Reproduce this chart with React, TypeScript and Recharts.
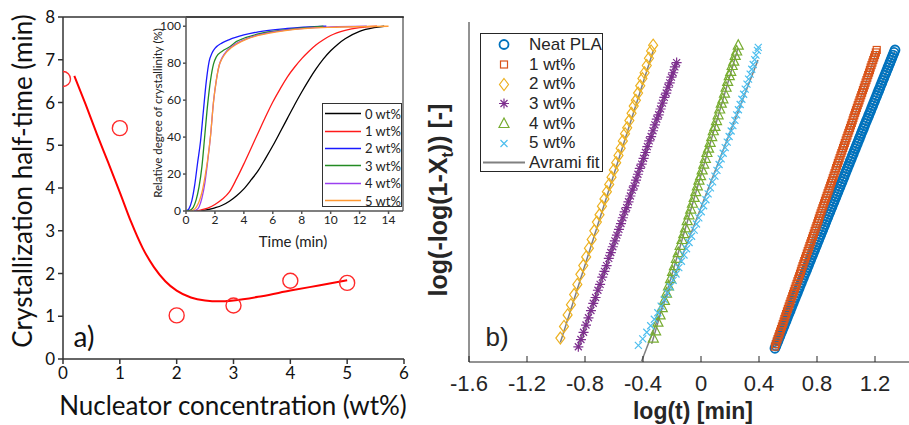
import React from "react";
import { ComposedChart, Line, Scatter, XAxis, YAxis, ReferenceLine, Legend } from "recharts";

type Pair = [number, number];
const toXY = (pairs: Pair[]) => pairs.map(([x, y]) => ({ x, y }));

// ---- panel a) half-time vs nucleator content ----
const nucleatorWt = [0, 1, 2, 3, 4, 5];
const halfTimeMin = [6.55, 5.4, 1.02, 1.25, 1.83, 1.78];
const fitWt = [0.2, 0.4, 0.6, 0.8, 1.0, 1.2, 1.4, 1.6, 1.8, 2.0, 2.25, 2.5, 2.75, 3.0, 3.5, 4.0, 4.5, 5.0];
const fitHalfTime = [6.62, 5.95, 5.25, 4.58, 3.9, 3.2, 2.6, 2.15, 1.82, 1.6, 1.44, 1.37, 1.35, 1.37, 1.47, 1.6, 1.72, 1.84];

// ---- inset: relative crystallinity (%) vs time (min) ----
const curve0wt: Pair[] = [[1, 0], [2, 1.7], [2.5, 3.1], [3, 5.3], [3.5, 8.3], [4, 12], [4.5, 16.8], [5, 22], [5.5, 28.5], [6, 35.3], [6.5, 42.6], [7, 50], [7.5, 57.4], [8, 64.4], [8.5, 71], [9, 77], [9.5, 82.3], [10, 86.7], [10.5, 90.3], [11, 93.2], [12, 97.2], [13, 99.2], [13.7, 100]];
const curve1wt: Pair[] = [[0.6, 0], [1, 0.5], [1.5, 1.5], [2, 3.5], [2.5, 6.3], [3, 10.3], [3.5, 17.5], [4, 25.5], [4.5, 34], [5, 42.5], [5.5, 51], [6, 59], [6.5, 66], [7, 72.5], [7.5, 77.8], [8, 82.5], [8.5, 86.5], [9, 90], [9.5, 92.7], [10, 95], [11, 97.8], [12, 99.3], [13.2, 100]];
const curve2wt: Pair[] = [[0, 0], [0.2, 1.2], [0.4, 5.5], [0.6, 14], [0.8, 26], [1.0, 37.5], [1.2, 54], [1.4, 70], [1.6, 81], [1.8, 85.5], [2.0, 88], [2.5, 91], [3, 92.8], [4, 95.3], [5, 97], [7, 98.8], [9.7, 100]];
const curve3wt: Pair[] = [[0, 0], [0.3, 0.5], [0.5, 2], [0.7, 6], [0.9, 13], [1.1, 24], [1.3, 41], [1.5, 58], [1.7, 71], [1.9, 79.5], [2.1, 83.5], [2.5, 86.5], [3, 88.8], [3.5, 91.8], [4, 93.5], [5, 95.8], [7, 98.2], [9.5, 100]];
const curve4wt: Pair[] = [[0.55, 0], [0.7, 0.5], [0.9, 2.2], [1.1, 7], [1.3, 15], [1.5, 27], [1.7, 41], [1.9, 59], [2.1, 71], [2.3, 79], [2.5, 83], [2.8, 86.5], [3.1, 88.6], [3.5, 90.8], [4.2, 93.3], [5, 95.3], [7, 98], [10, 99.6], [12.5, 100]];
const curve5wt: Pair[] = [[0.3, 0], [0.5, 0.5], [0.7, 2], [0.9, 5], [1.1, 10], [1.3, 18], [1.5, 28], [1.7, 41], [1.9, 59], [2.1, 71], [2.3, 79], [2.5, 82.5], [2.8, 86], [3.1, 88.2], [3.5, 90.3], [4.2, 93], [5, 95], [7, 97.8], [10, 99.4], [14, 100]];

const insetSeries = [
  { name: "0 wt%", color: "#000000", data: curve0wt },
  { name: "1 wt%", color: "#FF1A1A", data: curve1wt },
  { name: "2 wt%", color: "#1A1AFF", data: curve2wt },
  { name: "3 wt%", color: "#238B23", data: curve3wt },
  { name: "4 wt%", color: "#9B40F0", data: curve4wt },
  { name: "5 wt%", color: "#FF9933", data: curve5wt },
];

// ---- panel b) Avrami plot: log(t) vs log(-log(1-Xt)) ----
const neatPLA: Pair[] = [
  [0.510, -1.900], [0.517, -1.883], [0.524, -1.865], [0.531, -1.848], [0.538, -1.830], [0.545, -1.813], [0.552, -1.795], [0.559, -1.778], [0.566, -1.761], [0.573, -1.743],
  [0.580, -1.726], [0.587, -1.708], [0.594, -1.691], [0.601, -1.673], [0.608, -1.656], [0.615, -1.639], [0.622, -1.621], [0.629, -1.604], [0.636, -1.586], [0.643, -1.569],
  [0.650, -1.551], [0.657, -1.534], [0.664, -1.517], [0.671, -1.499], [0.678, -1.482], [0.685, -1.464], [0.692, -1.447], [0.699, -1.429], [0.706, -1.412], [0.713, -1.394],
  [0.720, -1.377], [0.728, -1.360], [0.735, -1.342], [0.742, -1.325], [0.749, -1.307], [0.756, -1.290], [0.763, -1.272], [0.770, -1.255], [0.777, -1.238], [0.784, -1.220],
  [0.791, -1.203], [0.798, -1.185], [0.805, -1.168], [0.812, -1.150], [0.819, -1.133], [0.826, -1.116], [0.833, -1.098], [0.840, -1.081], [0.847, -1.063], [0.854, -1.046],
  [0.861, -1.028], [0.868, -1.011], [0.875, -0.994], [0.882, -0.976], [0.889, -0.959], [0.896, -0.941], [0.903, -0.924], [0.910, -0.906], [0.917, -0.889], [0.924, -0.872],
  [0.931, -0.854], [0.938, -0.837], [0.945, -0.819], [0.952, -0.802], [0.959, -0.784], [0.966, -0.767], [0.973, -0.750], [0.980, -0.732], [0.987, -0.715], [0.994, -0.697],
  [1.001, -0.680], [1.008, -0.662], [1.015, -0.645], [1.022, -0.628], [1.029, -0.610], [1.036, -0.593], [1.043, -0.575], [1.050, -0.558], [1.057, -0.540], [1.064, -0.523],
  [1.071, -0.506], [1.078, -0.488], [1.085, -0.471], [1.092, -0.453], [1.099, -0.436], [1.106, -0.418], [1.113, -0.401], [1.120, -0.384], [1.127, -0.366], [1.134, -0.349],
  [1.141, -0.331], [1.149, -0.314], [1.156, -0.296], [1.163, -0.279], [1.170, -0.262], [1.177, -0.244], [1.184, -0.227], [1.191, -0.209], [1.198, -0.192], [1.205, -0.174],
  [1.212, -0.157], [1.219, -0.139], [1.226, -0.122], [1.233, -0.105], [1.240, -0.087], [1.247, -0.070], [1.254, -0.052], [1.261, -0.035], [1.268, -0.017], [1.275, 0.000],
  [1.282, 0.017], [1.289, 0.035], [1.296, 0.052], [1.303, 0.070], [1.310, 0.087], [1.317, 0.105], [1.324, 0.122], [1.331, 0.140], [1.338, 0.157],
];
const pla1wt: Pair[] = [
  [0.510, -1.889], [0.516, -1.872], [0.522, -1.854], [0.528, -1.837], [0.534, -1.820], [0.540, -1.802], [0.546, -1.785], [0.552, -1.768], [0.558, -1.750], [0.564, -1.733],
  [0.570, -1.716], [0.575, -1.698], [0.581, -1.681], [0.587, -1.664], [0.593, -1.646], [0.599, -1.629], [0.605, -1.612], [0.611, -1.594], [0.617, -1.577], [0.623, -1.560],
  [0.629, -1.542], [0.635, -1.525], [0.641, -1.508], [0.647, -1.490], [0.653, -1.473], [0.659, -1.456], [0.665, -1.438], [0.671, -1.421], [0.677, -1.404], [0.683, -1.386],
  [0.689, -1.369], [0.694, -1.352], [0.700, -1.334], [0.706, -1.317], [0.712, -1.299], [0.718, -1.282], [0.724, -1.265], [0.730, -1.247], [0.736, -1.230], [0.742, -1.213],
  [0.748, -1.195], [0.754, -1.178], [0.760, -1.161], [0.766, -1.143], [0.772, -1.126], [0.778, -1.109], [0.784, -1.091], [0.790, -1.074], [0.796, -1.057], [0.802, -1.039],
  [0.808, -1.022], [0.813, -1.005], [0.819, -0.987], [0.825, -0.970], [0.831, -0.953], [0.837, -0.935], [0.843, -0.918], [0.849, -0.901], [0.855, -0.883], [0.861, -0.866],
  [0.867, -0.849], [0.873, -0.831], [0.879, -0.814], [0.885, -0.797], [0.891, -0.779], [0.897, -0.762], [0.903, -0.745], [0.909, -0.727], [0.915, -0.710], [0.921, -0.693],
  [0.927, -0.675], [0.932, -0.658], [0.938, -0.641], [0.944, -0.623], [0.950, -0.606], [0.956, -0.589], [0.962, -0.571], [0.968, -0.554], [0.974, -0.537], [0.980, -0.519],
  [0.986, -0.502], [0.992, -0.485], [0.998, -0.467], [1.004, -0.450], [1.010, -0.433], [1.016, -0.415], [1.022, -0.398], [1.028, -0.381], [1.034, -0.363], [1.040, -0.346],
  [1.046, -0.328], [1.051, -0.311], [1.057, -0.294], [1.063, -0.276], [1.069, -0.259], [1.075, -0.242], [1.081, -0.224], [1.087, -0.207], [1.093, -0.190], [1.099, -0.172],
  [1.105, -0.155], [1.111, -0.138], [1.117, -0.120], [1.123, -0.103], [1.129, -0.086], [1.135, -0.068], [1.141, -0.051], [1.147, -0.034], [1.153, -0.016], [1.159, 0.001],
  [1.165, 0.018], [1.170, 0.036], [1.176, 0.053], [1.182, 0.070], [1.188, 0.088], [1.194, 0.105], [1.200, 0.122], [1.206, 0.140], [1.212, 0.157],
];
const pla2wt: Pair[] = [[-0.970, -1.83], [-0.945, -1.75], [-0.920, -1.67], [-0.897, -1.60], [-0.875, -1.53], [-0.853, -1.46], [-0.832, -1.39], [-0.812, -1.33], [-0.792, -1.27], [-0.773, -1.21], [-0.754, -1.15], [-0.736, -1.09], [-0.718, -1.03], [-0.700, -0.98], [-0.683, -0.92], [-0.666, -0.87], [-0.649, -0.82], [-0.633, -0.77], [-0.617, -0.72], [-0.601, -0.67], [-0.585, -0.62], [-0.569, -0.57], [-0.554, -0.52], [-0.539, -0.47], [-0.524, -0.42], [-0.509, -0.38], [-0.494, -0.33], [-0.479, -0.28], [-0.464, -0.23], [-0.449, -0.19], [-0.434, -0.14], [-0.419, -0.09], [-0.404, -0.04], [-0.389, 0.00], [-0.374, 0.05], [-0.359, 0.10], [-0.344, 0.15], [-0.330, 0.19]];
const pla3wt: Pair[] = [[-0.846, -1.89], [-0.828, -1.84], [-0.810, -1.79], [-0.793, -1.74], [-0.776, -1.69], [-0.759, -1.64], [-0.743, -1.59], [-0.727, -1.55], [-0.711, -1.50], [-0.696, -1.46], [-0.681, -1.41], [-0.666, -1.37], [-0.651, -1.33], [-0.636, -1.28], [-0.622, -1.24], [-0.608, -1.20], [-0.594, -1.16], [-0.580, -1.12], [-0.566, -1.08], [-0.552, -1.04], [-0.539, -1.00], [-0.526, -0.96], [-0.513, -0.93], [-0.500, -0.89], [-0.487, -0.85], [-0.474, -0.81], [-0.461, -0.78], [-0.448, -0.74], [-0.435, -0.70], [-0.422, -0.66], [-0.409, -0.63], [-0.396, -0.59], [-0.383, -0.55], [-0.370, -0.51], [-0.357, -0.47], [-0.344, -0.44], [-0.331, -0.40], [-0.318, -0.36], [-0.305, -0.32], [-0.292, -0.29], [-0.279, -0.25], [-0.266, -0.21], [-0.253, -0.17], [-0.240, -0.14], [-0.228, -0.10], [-0.216, -0.07], [-0.204, -0.03], [-0.192, 0.00], [-0.180, 0.04], [-0.168, 0.07]];
const pla4wt: Pair[] = [[-0.329, -1.83], [-0.313, -1.78], [-0.297, -1.72], [-0.282, -1.67], [-0.267, -1.62], [-0.252, -1.57], [-0.238, -1.52], [-0.224, -1.47], [-0.210, -1.42], [-0.196, -1.37], [-0.183, -1.33], [-0.170, -1.28], [-0.157, -1.24], [-0.144, -1.19], [-0.131, -1.15], [-0.119, -1.11], [-0.107, -1.07], [-0.095, -1.02], [-0.083, -0.98], [-0.071, -0.94], [-0.059, -0.90], [-0.047, -0.86], [-0.036, -0.82], [-0.025, -0.78], [-0.014, -0.74], [-0.003, -0.71], [0.008, -0.67], [0.019, -0.63], [0.030, -0.59], [0.041, -0.55], [0.052, -0.52], [0.063, -0.48], [0.074, -0.44], [0.085, -0.40], [0.096, -0.37], [0.107, -0.33], [0.118, -0.29], [0.129, -0.25], [0.140, -0.21], [0.151, -0.18], [0.162, -0.14], [0.173, -0.10], [0.184, -0.06], [0.195, -0.02], [0.205, 0.01], [0.215, 0.05], [0.226, 0.08], [0.236, 0.12], [0.246, 0.15], [0.257, 0.19]];
const pla5wt: Pair[] = [[-0.432, -1.880], [-0.402, -1.835], [-0.374, -1.790], [-0.347, -1.745], [-0.322, -1.700], [-0.298, -1.655], [-0.275, -1.610], [-0.253, -1.565], [-0.232, -1.520], [-0.212, -1.476], [-0.192, -1.432], [-0.172, -1.388], [-0.153, -1.344], [-0.135, -1.300], [-0.117, -1.257], [-0.100, -1.214], [-0.082, -1.171], [-0.065, -1.128], [-0.047, -1.085], [-0.031, -1.043], [-0.015, -1.001], [0.002, -0.959], [0.018, -0.917], [0.034, -0.876], [0.049, -0.835], [0.065, -0.794], [0.080, -0.753], [0.096, -0.713], [0.110, -0.673], [0.125, -0.633], [0.139, -0.594], [0.153, -0.555], [0.167, -0.516], [0.181, -0.478], [0.194, -0.440], [0.208, -0.402], [0.220, -0.365], [0.234, -0.328], [0.246, -0.291], [0.258, -0.255], [0.270, -0.219], [0.282, -0.183], [0.294, -0.148], [0.305, -0.113], [0.317, -0.078], [0.328, -0.044], [0.339, -0.010], [0.350, 0.024], [0.360, 0.057], [0.370, 0.090], [0.379, 0.122], [0.389, 0.154], [0.395, 0.175]];

// Avrami fit lines (end points)
const fitNeat: Pair[] = [[0.51, -1.9], [1.338, 0.15]];
const fit1wt: Pair[] = [[0.51, -1.89], [1.212, 0.15]];
const fit2wt: Pair[] = [[-0.97, -1.86], [-0.33, 0.15]];
const fit3wt: Pair[] = [[-0.846, -1.89], [-0.17, 0.07]];
const fit4wt: Pair[] = [[-0.34, -1.87], [0.255, 0.17]];
const fit5wt: Pair[] = [[-0.41, -1.99], [0.393, 0.088]];

const avramiTicks = [-1.6, -1.2, -0.8, -0.4, 0, 0.4, 0.8, 1.2];

type MarkerKind = "circle" | "square" | "diamond" | "star" | "triangle" | "cross" | "line";

const avramiSeries: { name: string; color: string; marker: MarkerKind; data: Pair[] }[] = [
  { name: "Neat PLA", color: "#0072BD", marker: "circle", data: neatPLA },
  { name: "1 wt%", color: "#D95319", marker: "square", data: pla1wt },
  { name: "2 wt%", color: "#EDB120", marker: "diamond", data: pla2wt },
  { name: "3 wt%", color: "#7E2F8E", marker: "star", data: pla3wt },
  { name: "4 wt%", color: "#77AC30", marker: "triangle", data: pla4wt },
  { name: "5 wt%", color: "#4DBEEE", marker: "cross", data: pla5wt },
];
const avramiFits = [fitNeat, fit1wt, fit2wt, fit3wt, fit4wt, fit5wt];

const ARIAL = "'Liberation Sans', Arial, sans-serif";
const SANS = "Lato, 'Open Sans', sans-serif";
const FIT_GRAY = "#808080";

function drawMarker(kind: MarkerKind, cx: number, cy: number, color: string) {
  const sw = 1.2;
  switch (kind) {
    case "circle":
      return <circle cx={cx} cy={cy} r={4.5} fill="none" stroke={color} strokeWidth={1.8} />;
    case "square":
      return <rect x={cx - 3.5} y={cy - 3.5} width={7} height={7} fill="none" stroke={color} strokeWidth={sw} />;
    case "diamond":
      return <path d={`M${cx},${cy - 6}L${cx + 4.5},${cy}L${cx},${cy + 6}L${cx - 4.5},${cy}Z`} fill="none" stroke={color} strokeWidth={sw} />;
    case "star":
      return (
        <path
          d={`M${cx},${cy - 5}V${cy + 5}M${cx - 5},${cy}H${cx + 5}M${cx - 3.5},${cy - 3.5}L${cx + 3.5},${cy + 3.5}M${cx - 3.5},${cy + 3.5}L${cx + 3.5},${cy - 3.5}`}
          stroke={color}
          strokeWidth={sw}
        />
      );
    case "triangle":
      return <path d={`M${cx},${cy - 5.5}L${cx + 5},${cy + 4}L${cx - 5},${cy + 4}Z`} fill="none" stroke={color} strokeWidth={sw} />;
    case "cross":
      return <path d={`M${cx - 3.5},${cy - 3.5}L${cx + 3.5},${cy + 3.5}M${cx - 3.5},${cy + 3.5}L${cx + 3.5},${cy - 3.5}`} stroke={color} strokeWidth={sw} />;
    default:
      return <line x1={cx - 21} x2={cx + 21} y1={cy} y2={cy} stroke={FIT_GRAY} strokeWidth={2} />;
  }
}

const fmtTick = (v: number) => (v === 0 ? "0" : String(v));

const BottomTick = (p: any) => (
  <g>
    <line x1={p.x} x2={p.x} y1={p.y} y2={p.y - 6} stroke="#262626" strokeWidth={1} />
    <text x={p.x} y={p.y + 29} textAnchor="middle" fontSize={22} fill="#262626" fontFamily={ARIAL}>
      {fmtTick(p.payload.value)}
    </text>
  </g>
);

const TopTick = (p: any) => <line x1={p.x} x2={p.x} y1={p.y} y2={p.y + 6} stroke="#262626" strokeWidth={1} />;

function Txt({ x, y, size, rot, children, style }: any) {
  return (
    <div
      style={{
        position: "absolute",
        left: x,
        top: y,
        transform: `translate(-50%, -50%)${rot ? " rotate(-90deg)" : ""}`,
        fontSize: size,
        whiteSpace: "nowrap",
        lineHeight: 1,
        ...style,
      }}
    >
      {children}
    </div>
  );
}

function InsetLegend() {
  return (
    <div style={{ width: 80, height: 104, border: "1px solid #333", background: "#fff", boxSizing: "border-box", paddingTop: 1, fontFamily: SANS, fontSize: 13, color: "#222" }}>
      {insetSeries.map((s) => (
        <div key={s.name} style={{ height: 17.4, display: "flex", alignItems: "center" }}>
          <svg width={42} height={17} style={{ flex: "none" }}>
            <line x1={2} x2={38} y1={8.5} y2={8.5} stroke={s.color} strokeWidth={1.5} />
          </svg>
          <span>{s.name}</span>
        </div>
      ))}
    </div>
  );
}

function AvramiLegend() {
  const rows: { name: string; color: string; marker: MarkerKind }[] = [
    ...avramiSeries.map(({ name, color, marker }) => ({ name, color, marker })),
    { name: "Avrami fit", color: FIT_GRAY, marker: "line" },
  ];
  return (
    <div style={{ width: 123, height: 139, border: "1px solid #262626", background: "#fff", boxSizing: "border-box", paddingTop: 1, fontFamily: ARIAL, fontSize: 17, color: "#262626" }}>
      {rows.map((r) => (
        <div key={r.name} style={{ height: 19.7, display: "flex", alignItems: "center" }}>
          <svg width={48} height={19} style={{ flex: "none" }}>
            {drawMarker(r.marker, 23, 9.5, r.color)}
          </svg>
          <span>{r.name}</span>
        </div>
      ))}
    </div>
  );
}

export default function App() {
  const halfTimePoints = nucleatorWt.map((x, i) => ({ x, y: halfTimeMin[i] }));
  const halfTimeFit = fitWt.map((x, i) => ({ x, y: fitHalfTime[i] }));

  return (
    <div style={{ position: "absolute", left: 0, top: 0, width: 909, height: 425, overflow: "hidden", background: "#fff" }}>
      {/* panel a) */}
      <div style={{ position: "absolute", left: 0, top: 0 }}>
        <ComposedChart width={430} height={425} margin={{ top: 17, right: 26, bottom: 36, left: 33 }}>
          <XAxis
            type="number"
            dataKey="x"
            domain={[0, 6]}
            ticks={[0, 1, 2, 3, 4, 5, 6]}
            allowDataOverflow
            height={30}
            tickSize={5}
            tickMargin={3}
            stroke="#333"
            strokeWidth={1.5}
            tick={{ fontSize: 17, fill: "#111", fontFamily: SANS }}
          />
          <YAxis
            type="number"
            dataKey="y"
            domain={[0, 8]}
            ticks={[0, 1, 2, 3, 4, 5, 6, 7, 8]}
            allowDataOverflow
            width={30}
            tickSize={5}
            tickMargin={3}
            stroke="#333"
            strokeWidth={1.5}
            tick={{ fontSize: 17, fill: "#111", fontFamily: SANS }}
          />
          <ReferenceLine y={8} stroke="#333" strokeWidth={1.5} />
          <Line data={halfTimeFit} dataKey="y" type="monotone" stroke="#FF0000" strokeWidth={2} dot={false} isAnimationActive={false} />
          <Scatter
            data={halfTimePoints}
            isAnimationActive={false}
            shape={(p: any) => <circle cx={p.cx} cy={p.cy} r={7.5} fill="none" stroke="#FF2A2A" strokeWidth={1.4} />}
          />
        </ComposedChart>
      </div>

      {/* inset */}
      <div style={{ position: "absolute", left: 140, top: 0 }}>
        <ComposedChart width={270} height={250} margin={{ top: 17, right: 7, bottom: 19, left: 16 }}>
          <XAxis
            type="number"
            dataKey="x"
            domain={[0, 15]}
            ticks={[0, 2, 4, 6, 8, 10, 12, 14]}
            allowDataOverflow
            height={20}
            tickSize={3}
            tickMargin={1}
            stroke="#555"
            strokeWidth={1.5}
            tick={{ fontSize: 12, fill: "#222", fontFamily: SANS }}
          />
          <YAxis
            type="number"
            dataKey="y"
            domain={[0, 105]}
            ticks={[0, 20, 40, 60, 80, 100]}
            allowDataOverflow
            width={30}
            tickSize={3}
            tickMargin={2}
            stroke="#555"
            strokeWidth={1.5}
            tick={{ fontSize: 12, fill: "#222", fontFamily: SANS }}
          />
          <ReferenceLine y={105} stroke="#222" strokeWidth={1} />
          <ReferenceLine x={15} stroke="#222" strokeWidth={1} />
          {insetSeries.map((s) => (
            <Line
              key={s.name}
              data={toXY(s.data)}
              dataKey="y"
              name={s.name}
              type="monotone"
              stroke={s.color}
              strokeWidth={1.3}
              dot={false}
              isAnimationActive={false}
            />
          ))}
          <Legend layout="vertical" align="center" verticalAlign="middle" wrapperStyle={{ left: 182, top: 103, width: 80, height: 104 }} content={() => <InsetLegend />} />
        </ComposedChart>
      </div>

      {/* panel b) */}
      <div style={{ position: "absolute", left: 420, top: 0 }}>
        <ComposedChart width={520} height={425} margin={{ top: 22, right: 7, bottom: 13, left: 48 }}>
          <XAxis
            type="number"
            dataKey="x"
            domain={[-1.6, 1.6]}
            ticks={avramiTicks}
            allowDataOverflow
            height={50}
            tickSize={0}
            tickMargin={0}
            tickLine={false}
            stroke="#262626"
            tick={BottomTick}
          />
          <XAxis
            xAxisId="top"
            orientation="top"
            type="number"
            dataKey="x"
            domain={[-1.6, 1.6]}
            ticks={avramiTicks}
            allowDataOverflow
            height={0}
            tickSize={0}
            tickMargin={0}
            tickLine={false}
            stroke="#262626"
            tick={TopTick}
          />
          <YAxis type="number" dataKey="y" domain={[-1.995, 0.35]} allowDataOverflow width={1} tick={false} tickLine={false} stroke="#262626" />
          {avramiSeries.map((s) => (
            <Scatter
              key={s.name}
              name={s.name}
              data={toXY(s.data)}
              isAnimationActive={false}
              shape={(p: any) => drawMarker(s.marker, p.cx, p.cy, s.color)}
            />
          ))}
          {avramiFits.map((f, i) => (
            <Line key={i} data={toXY(f)} dataKey="y" type="linear" stroke={FIT_GRAY} strokeWidth={1.5} dot={false} isAnimationActive={false} />
          ))}
          <Legend layout="vertical" align="center" verticalAlign="middle" wrapperStyle={{ left: 60, top: 33, width: 123, height: 139 }} content={() => <AvramiLegend />} />
        </ComposedChart>
      </div>

      {/* axis titles and panel letters */}
      <Txt x={22} y={181} size={26} rot style={{ fontFamily: SANS, color: "#111" }}>Crystallization half-time (min)</Txt>
      <Txt x={233} y={405} size={26} style={{ fontFamily: SANS, color: "#111" }}>Nucleator concentration (wt%)</Txt>
      <Txt x={84} y={336} size={28} style={{ fontFamily: SANS, color: "#111" }}>a)</Txt>
      <Txt x={158} y={113} size={11.5} rot style={{ fontFamily: SANS, color: "#222" }}>Relative degree of crystallinity (%)</Txt>
      <Txt x={293} y={241} size={15} style={{ fontFamily: SANS, color: "#222" }}>Time (min)</Txt>
      <Txt x={441} y={200} size={25} rot style={{ fontFamily: ARIAL, fontWeight: "bold", color: "#262626" }}>
        log(-log(1-X<sub style={{ fontSize: 16 }}>t</sub>)) [-]
      </Txt>
      <Txt x={693} y={411} size={23} style={{ fontFamily: ARIAL, fontWeight: "bold", color: "#262626" }}>log(t) [min]</Txt>
      <Txt x={497} y={337} size={26} style={{ fontFamily: ARIAL, color: "#262626" }}>b)</Txt>
    </div>
  );
}
